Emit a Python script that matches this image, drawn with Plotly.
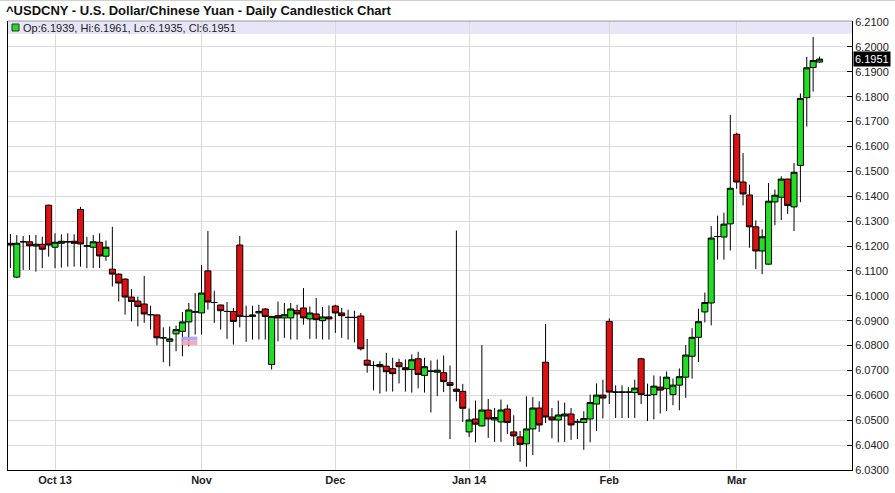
import pandas as pd
import plotly.graph_objects as go

# ---------------- data ----------------
holidays = ["2013-12-25", "2014-01-01"]
dates = [d.strftime("%Y-%m-%d") for d in pd.bdate_range("2013-09-20", "2014-03-20")
         if d.strftime("%Y-%m-%d") not in holidays]

open_ = [6.1211, 6.1075, 6.1217, 6.1217, 6.1200, 6.1207, 6.1364, 6.1195, 6.1211, 6.1217,
         6.1219, 6.1347, 6.1200, 6.1195, 6.1215, 6.1159, 6.1107, 6.1087, 6.1067, 6.0995,
         6.0979, 6.0967, 6.0924, 6.0923, 6.0831, 6.0817, 6.0847, 6.0857, 6.0895, 6.0935,
         6.0931, 6.1100, 6.0973, 6.0963, 6.0937, 6.0937, 6.1204, 6.0917, 6.0917, 6.0931,
         6.0947, 6.0724, 6.0920, 6.0911, 6.0911, 6.0941, 6.0951, 6.0907, 6.0927, 6.0900,
         6.0915, 6.0959, 6.0931, 6.0913, 6.0913, 6.0919, 6.0741, 6.0720, 6.0724, 6.0717,
         6.0707, 6.0731, 6.0711, 6.0704, 6.0747, 6.0680, 6.0697, 6.0693, 6.0691, 6.0651,
         6.0625, 6.0616, 6.0453, 6.0505, 6.0477, 6.0541, 6.0501, 6.0493, 6.0545, 6.0453,
         6.0433, 6.0405, 6.0465, 6.0549, 6.0733, 6.0513, 6.0501, 6.0517, 6.0525, 6.0493,
         6.0491, 6.0505, 6.0565, 6.0601, 6.0897, 6.0613, 6.0613, 6.0613, 6.0611, 6.0747,
         6.0600, 6.0603, 6.0633, 6.0627, 6.0603, 6.0641, 6.0673, 6.0757, 6.0833, 6.0935,
         6.0971, 6.1238, 6.1236, 6.1289, 6.1649, 6.1457, 6.1405, 6.1277, 6.1180, 6.1127,
         6.1377, 6.1396, 6.1469, 6.1357, 6.1524, 6.1796, 6.1917, 6.1939]
high = [6.1248, 6.1244, 6.1240, 6.1244, 6.1244, 6.1237, 6.1366, 6.1251, 6.1247, 6.1251,
        6.1247, 6.1357, 6.1237, 6.1244, 6.1251, 6.1222, 6.1277, 6.1090, 6.1070, 6.1027,
        6.0997, 6.1080, 6.0960, 6.0925, 6.0873, 6.0877, 6.0880, 6.0935, 6.0971, 6.1011,
        6.1124, 6.1260, 6.1020, 6.0965, 6.0975, 6.0951, 6.1240, 6.0960, 6.0960, 6.0964,
        6.0951, 6.0919, 6.0977, 6.0971, 6.0971, 6.0964, 6.1031, 6.0957, 6.0991, 6.0955,
        6.0961, 6.0964, 6.0951, 6.0944, 6.0940, 6.0931, 6.0827, 6.0737, 6.0737, 6.0771,
        6.0751, 6.0747, 6.0744, 6.0764, 6.0775, 6.0751, 6.0740, 6.0744, 6.0760, 6.0720,
        6.1262, 6.0646, 6.0547, 6.0579, 6.0802, 6.0585, 6.0549, 6.0583, 6.0563, 6.0520,
        6.0457, 6.0596, 6.0593, 6.0576, 6.0887, 6.0549, 6.0579, 6.0571, 6.0549, 6.0505,
        6.0536, 6.0603, 6.0648, 6.0663, 6.0909, 6.0640, 6.0640, 6.0633, 6.0663, 6.0751,
        6.0647, 6.0680, 6.0677, 6.0696, 6.0667, 6.0708, 6.0802, 6.0870, 6.0948, 6.1013,
        6.1280, 6.1322, 6.1334, 6.1727, 6.1655, 6.1573, 6.1447, 6.1303, 6.1267, 6.1453,
        6.1427, 6.1480, 6.1470, 6.1533, 6.1813, 6.1960, 6.2040, 6.1961]
low = [6.1111, 6.1070, 6.1104, 6.1104, 6.1097, 6.1111, 6.1157, 6.1111, 6.1113, 6.1117,
       6.1117, 6.1117, 6.1111, 6.1111, 6.1111, 6.1140, 6.1037, 6.0977, 6.0924, 6.0897,
       6.0877, 6.0891, 6.0864, 6.0801, 6.0733, 6.0717, 6.0777, 6.0757, 6.0797, 6.0844,
       6.0844, 6.0944, 6.0891, 6.0864, 6.0827, 6.0804, 6.0873, 6.0815, 6.0824, 6.0824,
       6.0824, 6.0704, 6.0817, 6.0831, 6.0824, 6.0824, 6.0884, 6.0827, 6.0827, 6.0824,
       6.0824, 6.0851, 6.0831, 6.0824, 6.0813, 6.0780, 6.0691, 6.0620, 6.0607, 6.0615,
       6.0615, 6.0648, 6.0615, 6.0611, 6.0628, 6.0611, 6.0531, 6.0597, 6.0613, 6.0424,
       6.0576, 6.0493, 6.0433, 6.0411, 6.0475, 6.0429, 6.0413, 6.0413, 6.0445, 6.0396,
       6.0333, 6.0313, 6.0360, 6.0453, 6.0489, 6.0427, 6.0411, 6.0413, 6.0421, 6.0424,
       6.0381, 6.0411, 6.0457, 6.0507, 6.0565, 6.0509, 6.0509, 6.0509, 6.0509, 6.0565,
       6.0497, 6.0503, 6.0527, 6.0537, 6.0560, 6.0540, 6.0590, 6.0667, 6.0734, 6.0893,
       6.0881, 6.1145, 6.1145, 6.1182, 6.1430, 6.1363, 6.1193, 6.1107, 6.1087, 6.1125,
       6.1284, 6.1304, 6.1329, 6.1260, 6.1376, 6.1680, 6.1820, 6.1935]
close = [6.1204, 6.1211, 6.1217, 6.1201, 6.1207, 6.1187, 6.1204, 6.1215, 6.1219, 6.1217,
         6.1211, 6.1208, 6.1200, 6.1217, 6.1160, 6.1195, 6.1087, 6.1051, 6.0995, 6.0977,
         6.0957, 6.0927, 6.0924, 6.0831, 6.0831, 6.0827, 6.0864, 6.0895, 6.0943, 6.0935,
         6.1011, 6.0975, 6.0973, 6.0940, 6.0937, 6.0897, 6.0917, 6.0917, 6.0923, 6.0937,
         6.0917, 6.0917, 6.0911, 6.0924, 6.0947, 6.0927, 6.0911, 6.0931, 6.0904, 6.0915,
         6.0907, 6.0931, 6.0920, 6.0913, 6.0913, 6.0787, 6.0721, 6.0720, 6.0715, 6.0695,
         6.0687, 6.0715, 6.0703, 6.0743, 6.0684, 6.0715, 6.0697, 6.0701, 6.0655, 6.0640,
         6.0616, 6.0548, 6.0501, 6.0484, 6.0541, 6.0505, 6.0511, 6.0541, 6.0491, 6.0437,
         6.0403, 6.0465, 6.0549, 6.0481, 6.0513, 6.0501, 6.0521, 6.0525, 6.0481, 6.0493,
         6.0507, 6.0571, 6.0601, 6.0589, 6.0613, 6.0613, 6.0613, 6.0613, 6.0629, 6.0603,
         6.0600, 6.0637, 6.0621, 6.0673, 6.0641, 6.0675, 6.0762, 6.0833, 6.0896, 6.0973,
         6.1232, 6.1238, 6.1288, 6.1432, 6.1457, 6.1409, 6.1277, 6.1180, 6.1237, 6.1380,
         6.1404, 6.1469, 6.1363, 6.1496, 6.1793, 6.1916, 6.1945, 6.1951]

tick_dates = ["2013-10-01", "2013-11-01", "2013-12-02", "2014-01-02", "2014-02-03", "2014-03-03"]
tick_text = ["Oct 13", "Nov", "Dec", "Jan 14", "Feb", "Mar"]

title_text = "^USDCNY - U.S. Dollar/Chinese Yuan - Daily Candlestick Chart"
last = dict(o=open_[-1], h=high[-1], l=low[-1], c=close[-1])
legend_text = "Op:%.4f, Hi:%.4f, Lo:%.4f, Cl:%.4f" % (last["o"], last["h"], last["l"], last["c"])

# ---------------- figure ----------------
GREEN = "#22DD22"
RED = "#DD1111"
FONT = "Liberation Sans, Arial, sans-serif"

fig = go.Figure()
fig.add_trace(go.Candlestick(
    x=dates, open=open_, high=high, low=low, close=close,
    increasing=dict(fillcolor=GREEN, line=dict(color="#000000", width=1)),
    decreasing=dict(fillcolor=RED, line=dict(color="#000000", width=1)),
    whiskerwidth=0, showlegend=False, hoverinfo="skip",
))

H_PLOT = 449.0
W_PLOT = 844.0

def py(pix):  # pixel row from top of image -> paper y
    return (470.0 - pix) / H_PLOT

def px(pix):  # pixel column -> paper x
    return (pix - 8.0) / W_PLOT

shapes = [
    dict(type="rect", xref="paper", yref="paper", x0=0, x1=1, y0=py(34), y1=1,
         fillcolor="#E6E6F8", line=dict(width=0), layer="below"),
    dict(type="line", xref="paper", yref="paper", x0=0, x1=1, y0=1, y1=1,
         line=dict(color="#9A9A9A", width=1)),
    dict(type="line", xref="paper", yref="paper", x0=px(0), x1=px(895), y0=py(0.5), y1=py(0.5),
         line=dict(color="#D0D0D0", width=1)),
    dict(type="rect", xref="paper", yref="paper", x0=px(12), x1=px(19), y0=py(31), y1=py(24),
         fillcolor=GREEN, line=dict(color="#333333", width=1)),
    dict(type="rect", xref="x", yref="y", x0=26.85, x1=29.35, y0=6.0820, y1=6.0836,
         fillcolor="#A4A4EC", line=dict(width=0), layer="above", opacity=0.9),
    dict(type="rect", xref="x", yref="y", x0=26.85, x1=29.35, y0=6.0802, y1=6.0820,
         fillcolor="#F2A2B8", line=dict(width=0), layer="above", opacity=0.9),
]

annotations = [
    dict(xref="paper", yref="paper", x=px(21), y=py(28), xanchor="left", yanchor="middle",
         text=legend_text, showarrow=False, font=dict(family=FONT, size=11, color="#222222")),
    dict(xref="paper", yref="y", x=1, y=close[-1], xanchor="left", yanchor="middle", xshift=1,
         text="%.4f" % close[-1], showarrow=False, bgcolor="#000000", borderpad=1,
         font=dict(family=FONT, size=11, color="#FFFFFF")),
]

fig.update_layout(
    width=895, height=493,
    margin=dict(l=8, r=43, t=21, b=23, autoexpand=False),
    paper_bgcolor="#FFFFFF", plot_bgcolor="#FFFFFF",
    title=dict(text="<b>" + title_text + "</b>", x=6 / 895, xanchor="left",
               y=1 - 10 / 493, yanchor="middle", font=dict(family=FONT, size=13, color="#111111")),
    shapes=shapes, annotations=annotations,
    boxgap=0.05, boxgroupgap=0.0,
    showlegend=False,
)

fig.update_xaxes(
    type="category", range=[-0.38, 132.1], automargin=False,
    tickmode="array", tickvals=tick_dates, ticktext=tick_text,
    showgrid=True, gridcolor="#DADADA", gridwidth=1,
    showline=True, linecolor="#000000", linewidth=1,
    ticks="", rangeslider=dict(visible=False),
    tickfont=dict(family="Liberation Sans Narrow, Arial Narrow, Liberation Sans, Arial",
                  size=11, color="#222222", weight="bold"),
)
fig.update_yaxes(
    side="right", range=[6.03, 6.2104], tick0=6.03, dtick=0.01, tickformat=".4f",
    automargin=False,
    showgrid=True, gridcolor="#DADADA", gridwidth=1,
    showline=True, linecolor="#000000", linewidth=1, mirror=True,
    ticks="inside", ticklen=5, tickcolor="#000000",
    tickfont=dict(family=FONT, size=11, color="#222222"),
    zeroline=False,
)

fig.write_html("out.html",
               config={"displayModeBar": False},
               post_script="document.body.style.margin='0';document.body.style.padding='0';")
